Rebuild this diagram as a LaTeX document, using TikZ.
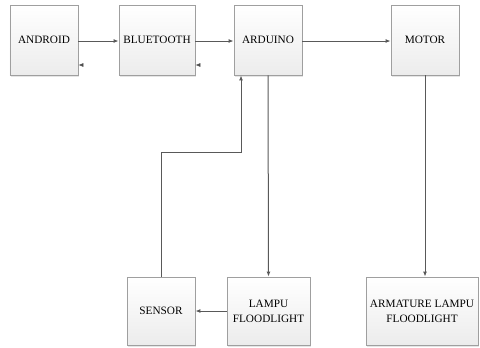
\documentclass[tikz,border=0pt]{standalone}
\usepackage{fontspec}
\setmainfont{Liberation Serif}
\usetikzlibrary{arrows.meta,shadows}
\begin{document}
\begin{tikzpicture}[x=1bp,y=-1bp,
  blk/.style={draw=gray!75, line width=0.8bp, top color=white, bottom color=gray!15,
    drop shadow={shadow xshift=1bp, shadow yshift=-1.5bp, fill=gray!40},
    inner sep=0pt, align=center, font=\fontsize{11.3}{15}\selectfont},
  con/.style={draw=black!65, line width=1bp, -{Latex[length=5bp,width=4bp]}},
  ghost/.style={draw=white, line width=0.6bp, -{Latex[length=5bp,width=4bp,color=black!70]}}]
\useasboundingbox (0,0) rectangle (480,347);
\node[blk, minimum width=68bp, minimum height=70bp] (android) at (44,40) {ANDROID};
\node[blk, minimum width=76bp, minimum height=70bp] (bt) at (157,40) {BLUETOOTH};
\node[blk, minimum width=68bp, minimum height=70bp] (ard) at (268,40) {ARDUINO};
\node[blk, minimum width=68bp, minimum height=70bp] (motor) at (425,40) {MOTOR};
\node[blk, minimum width=68bp, minimum height=68bp] (sensor) at (161,311) {SENSOR};
\node[blk, minimum width=83bp, minimum height=68bp] (lampu) at (268.5,311) {LAMPU\\FLOODLIGHT};
\node[blk, minimum width=112bp, minimum height=68bp] (arm) at (422,311) {ARMATURE LAMPU\\FLOODLIGHT};
\coordinate (bend1) at (161,152);
\coordinate (bend2) at (241,152);
\draw[con] (android.east |- 0,41) -- (bt.west |- 0,41);
\draw[con] (bt.east |- 0,41) -- (ard.west |- 0,41);
\draw[con] (ard.east |- 0,41) -- (motor.west |- 0,41);
\draw[ghost] (bt.west |- 0,65) -- (android.east |- 0,65);
\draw[ghost] (ard.west |- 0,65) -- (bt.east |- 0,65);
\draw[con] (ard.south) -- (lampu.north);
\draw[con] (motor.south) -- (motor.south |- arm.north);
\draw[con] (lampu.west) -- (sensor.east);
\draw[con] (sensor.north) -- (bend1) -- (bend2) -- (bend2 |- ard.south);
\end{tikzpicture}
\end{document}
